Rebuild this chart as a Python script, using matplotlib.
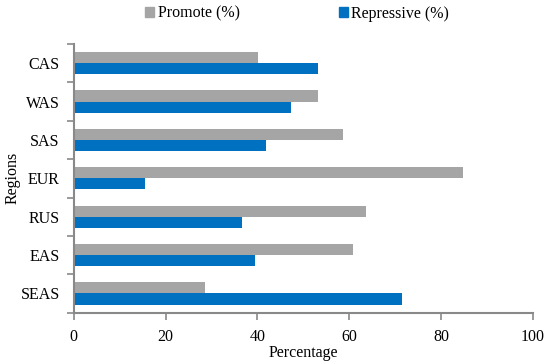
import numpy as np
import matplotlib.pyplot as plt
from matplotlib.patches import Patch

# Data (bottom to top)
regions = ['SEAS', 'EAS', 'RUS', 'EUR', 'SAS', 'WAS', 'CAS']
promote = [28.6, 60.9, 63.6, 84.8, 58.6, 53.1, 40.1]
repressive = [71.5, 39.5, 36.7, 15.5, 41.8, 47.3, 53.1]

plt.rcParams['font.family'] = ['Liberation Serif', 'DejaVu Serif']

gray = '#A5A5A5'
blue = '#0070C0'
axcol = '#898989'

fig = plt.figure(figsize=(5.5, 3.61), dpi=100)
ax = fig.add_axes([0.134, 0.134, 0.835, 0.744])

y = np.arange(len(regions))
h = 0.29
ax.barh(y + h / 2, promote, height=h, color=gray)
ax.barh(y - h / 2, repressive, height=h, color=blue)

ax.set_xlim(0, 100)
ax.set_ylim(-0.5, len(regions) - 0.5)
ax.set_xticks(range(0, 101, 20))
ax.set_yticks(y)
ax.set_yticklabels(regions)
# tick marks between categories on the y axis
ax.set_yticks(np.arange(-0.5, len(regions), 1), minor=True)
ax.tick_params(axis='y', which='major', length=0, labelsize=11.5, pad=10)
ax.tick_params(axis='y', which='minor', length=5, width=1.2, color=axcol)
ax.tick_params(axis='x', length=5, width=1.2, color=axcol, labelsize=11.5, pad=7)

for s in ['top', 'right']:
    ax.spines[s].set_visible(False)
for s in ['left', 'bottom']:
    ax.spines[s].set_color(axcol)
    ax.spines[s].set_linewidth(1.5)

ax.set_xlabel('Percentage', fontsize=11.5, labelpad=0)
ax.set_ylabel('Regions', fontsize=11.5)
ax.yaxis.set_label_coords(-0.115, 0.5)

handles = [Patch(color=gray, label='Promote (%)'), Patch(color=blue, label='Repressive (%)')]
fig.legend(handles=handles, loc='center', bbox_to_anchor=(0.54, 0.962), ncol=2,
           frameon=False, fontsize=11.5, handlelength=0.6, handleheight=0.6,
           handletextpad=0.2, columnspacing=6.2)

fig.savefig('out.png', dpi=100)
